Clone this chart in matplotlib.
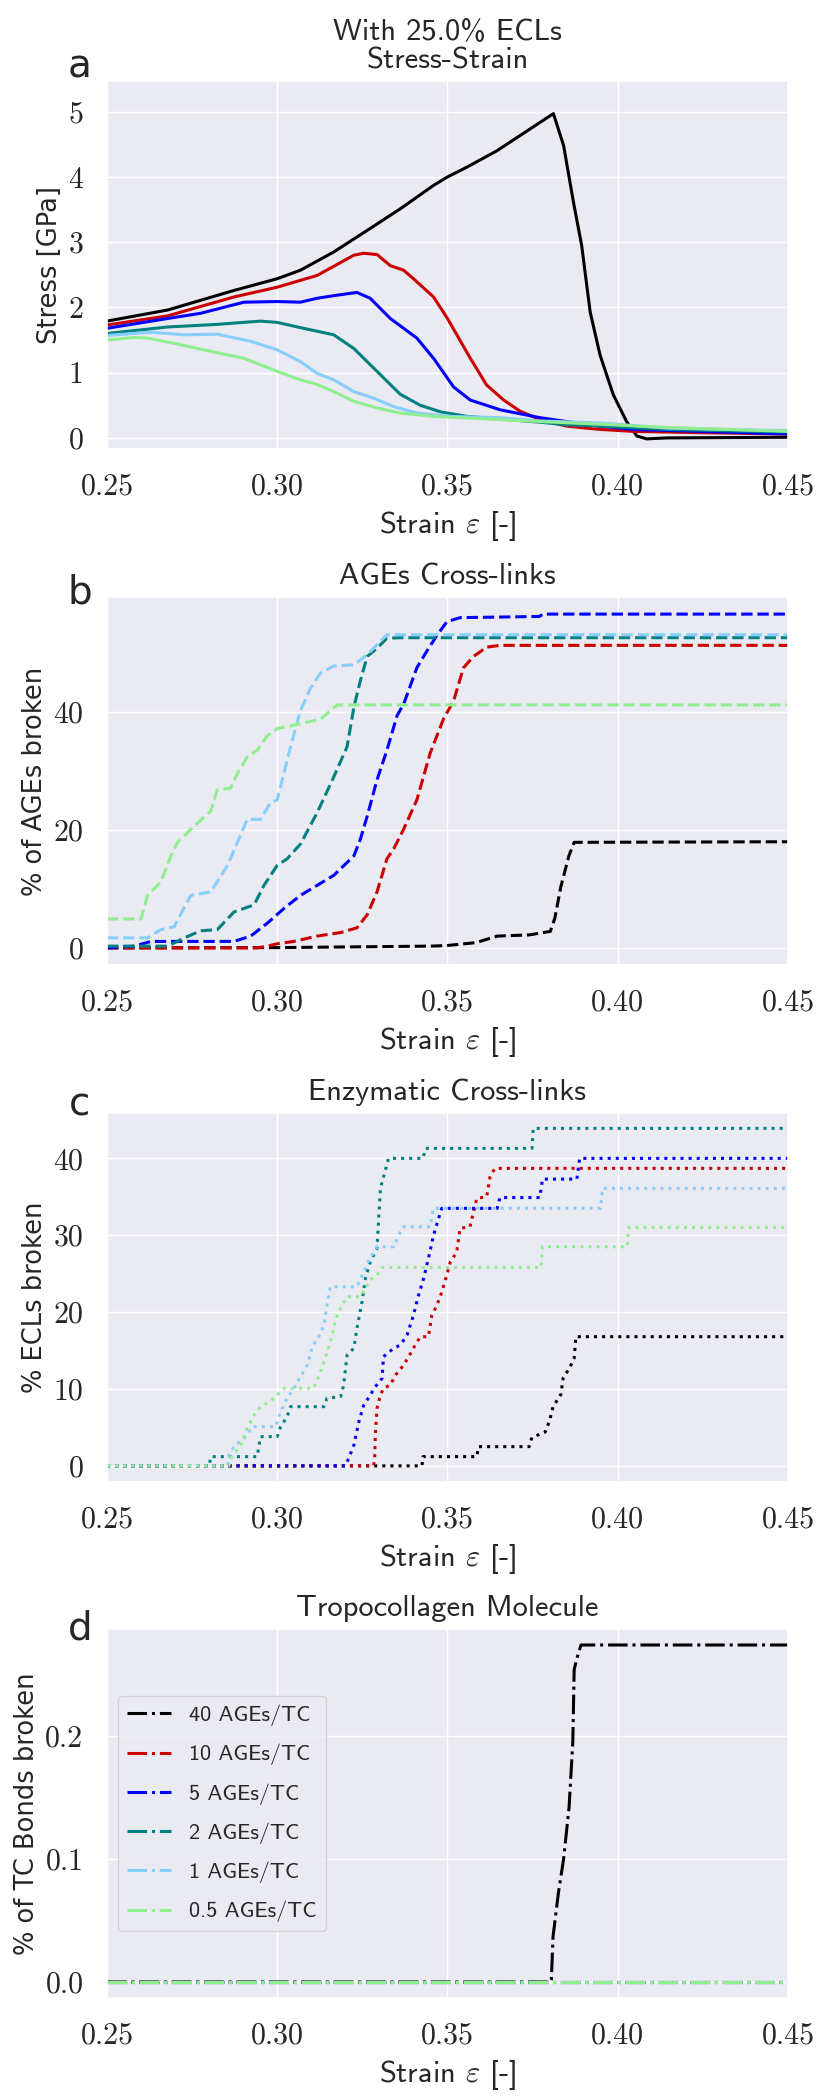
import matplotlib
matplotlib.use('Agg')
import matplotlib.pyplot as plt
import seaborn as sns

sns.set_theme(style='darkgrid')
plt.rcParams['mathtext.fontset'] = 'cm'
plt.rcParams['font.family'] = ['DejaVu Sans']

# ---------------- data ----------------
x_ticks = [0.25, 0.30, 0.35, 0.40, 0.45]
labels = ['40 AGEs/TC', '10 AGEs/TC', '5 AGEs/TC', '2 AGEs/TC', '1 AGEs/TC', '0.5 AGEs/TC']
colors = ['black', '#cc0000', 'blue', 'teal', 'lightskyblue', 'lightgreen']

# a) stress-strain
a_strain_40 = [0.25, 0.2678, 0.2873, 0.30, 0.3068, 0.3166, 0.3264, 0.3361, 0.3459, 0.35, 0.3557, 0.3645,
               0.3811, 0.3841, 0.387, 0.3894, 0.3919, 0.3948, 0.3987, 0.4026, 0.4056, 0.4085, 0.4144, 0.45]
a_stress_40 = [1.79, 1.96, 2.26, 2.44, 2.57, 2.85, 3.18, 3.51, 3.87, 4.0, 4.15, 4.40,
               4.97, 4.48, 3.61, 2.95, 1.93, 1.27, 0.66, 0.25, 0.03, -0.015, 0.0, 0.01]
a_strain_10 = [0.25, 0.2678, 0.2873, 0.30, 0.3117, 0.3225, 0.3254, 0.3293, 0.3332, 0.3371, 0.34, 0.3459,
               0.35, 0.3567, 0.3615, 0.3665, 0.3713, 0.3772, 0.385, 0.3948, 0.4046, 0.4242, 0.45]
a_stress_10 = [1.73, 1.87, 2.16, 2.31, 2.49, 2.80, 2.83, 2.81, 2.64, 2.57, 2.44, 2.16,
               1.83, 1.22, 0.81, 0.58, 0.41, 0.28, 0.18, 0.13, 0.10, 0.08, 0.06]
a_strain_5 = [0.25, 0.2678, 0.2775, 0.2902, 0.30, 0.3068, 0.3117, 0.3166, 0.3234, 0.3273, 0.3332, 0.341,
              0.3459, 0.3518, 0.3567, 0.3655, 0.3772, 0.385, 0.3948, 0.4046, 0.45]
a_stress_5 = [1.68, 1.83, 1.91, 2.08, 2.09, 2.08, 2.14, 2.18, 2.23, 2.14, 1.83, 1.53,
              1.22, 0.78, 0.58, 0.43, 0.31, 0.25, 0.18, 0.13, 0.06]
a_strain_2 = [0.25, 0.2678, 0.2824, 0.2951, 0.30, 0.3068, 0.3166, 0.3225, 0.3293, 0.3361, 0.342, 0.3479,
              0.3557, 0.3654, 0.3772, 0.385, 0.3948, 0.4144, 0.45]
a_stress_2 = [1.60, 1.70, 1.74, 1.79, 1.77, 1.69, 1.58, 1.37, 1.02, 0.67, 0.50, 0.40,
              0.33, 0.29, 0.24, 0.20, 0.18, 0.13, 0.09]
a_strain_1 = [0.25, 0.2629, 0.2727, 0.2824, 0.2922, 0.30, 0.3068, 0.3117, 0.3166, 0.3225, 0.3283, 0.3342,
              0.341, 0.3508, 0.3654, 0.3772, 0.3948, 0.4144, 0.45]
a_stress_1 = [1.57, 1.62, 1.58, 1.59, 1.48, 1.35, 1.17, 0.99, 0.89, 0.71, 0.61, 0.48,
              0.38, 0.33, 0.31, 0.26, 0.23, 0.15, 0.11]
a_strain_05 = [0.25, 0.258, 0.2619, 0.2697, 0.2775, 0.2902, 0.30, 0.3068, 0.3117, 0.3166, 0.3225, 0.3293,
               0.3361, 0.3459, 0.3654, 0.3772, 0.3948, 0.4144, 0.45]
a_stress_05 = [1.50, 1.54, 1.53, 1.45, 1.36, 1.22, 1.02, 0.89, 0.82, 0.71, 0.56, 0.46,
               0.38, 0.33, 0.28, 0.25, 0.21, 0.16, 0.10]

# b) % of AGEs broken
b_strain_40 = [0.25, 0.30, 0.345, 0.3498, 0.355, 0.3584, 0.3646, 0.374, 0.3802, 0.3815, 0.3833, 0.3857, 0.3872, 0.45]
b_ages_40 = [0.0, 0.05, 0.3, 0.4, 0.7, 0.9, 2.0, 2.2, 2.8, 5.0, 10.4, 15.7, 17.9, 18.0]
b_strain_10 = [0.25, 0.2775, 0.2941, 0.2971, 0.30, 0.3049, 0.3117, 0.3186, 0.3234, 0.3264, 0.3293, 0.3322,
               0.3342, 0.3371, 0.341, 0.3449, 0.3488, 0.3518, 0.3547, 0.3576, 0.3615, 0.3654, 0.45]
b_ages_10 = [0.0, 0.0, 0.0, 0.3, 0.7, 1.1, 2.0, 2.6, 3.4, 5.6, 9.5, 15.1,
             16.8, 20.1, 25.1, 33.0, 38.8, 41.9, 47.5, 49.4, 51.0, 51.3, 51.3]
b_strain_5 = [0.25, 0.258, 0.2629, 0.2873, 0.2922, 0.2971, 0.302, 0.3068, 0.3117, 0.3166, 0.3225, 0.3244,
              0.3264, 0.3293, 0.3322, 0.3352, 0.3371, 0.341, 0.3439, 0.3469, 0.3498, 0.3537, 0.3654, 0.377,
              0.378, 0.45]
b_ages_5 = [0.0, 0.3, 1.1, 1.1, 2.0, 4.2, 6.7, 8.9, 10.6, 12.3, 15.6, 18.4,
            22.3, 28.5, 33.5, 39.4, 41.3, 47.5, 50.3, 53.0, 55.3, 56.0, 56.1, 56.2,
            56.6, 56.6]
b_strain_2 = [0.25, 0.2678, 0.2727, 0.2775, 0.2824, 0.2873, 0.2932, 0.2961, 0.30, 0.3029, 0.3068, 0.3117,
              0.3166, 0.3205, 0.3225, 0.3244, 0.3264, 0.3293, 0.3322, 0.3361, 0.45]
b_ages_2 = [0.3, 0.3, 1.7, 2.9, 3.1, 6.1, 7.3, 10.6, 14.0, 15.1, 17.6, 22.9,
            29.0, 34.1, 40.8, 45.3, 49.4, 50.8, 52.5, 52.6, 52.6]
b_strain_1 = [0.25, 0.2619, 0.2658, 0.2697, 0.2746, 0.2805, 0.2854, 0.2912, 0.2951, 0.298, 0.30, 0.3039,
              0.3068, 0.3098, 0.3127, 0.3166, 0.3225, 0.3264, 0.3293, 0.3322, 0.45]
b_ages_1 = [1.7, 1.7, 3.1, 3.6, 8.9, 9.5, 14.0, 21.8, 21.8, 24.6, 25.1, 34.1,
            40.2, 44.1, 46.6, 47.8, 48.0, 49.7, 51.4, 53.1, 53.1]
b_strain_05 = [0.25, 0.26, 0.2619, 0.2658, 0.2688, 0.2707, 0.2746, 0.2805, 0.2824, 0.2863, 0.2883, 0.2912,
               0.2941, 0.2971, 0.30, 0.3068, 0.3127, 0.3156, 0.3176, 0.45]
b_ages_05 = [4.9, 4.9, 8.9, 11.2, 15.6, 17.9, 20.1, 23.2, 26.8, 27.1, 29.6, 32.4,
             33.5, 36.0, 37.2, 38.0, 38.8, 40.2, 41.2, 41.2]

# c) % ECLs broken
c_strain_40 = [0.25, 0.3425, 0.3428, 0.3586, 0.3591, 0.374, 0.3748, 0.3787, 0.38, 0.381, 0.3833, 0.384,
               0.3857, 0.3872, 0.3877, 0.45]
c_ecl_40 = [0.0, 0.0, 1.2, 1.2, 2.5, 2.5, 3.7, 4.4, 5.9, 7.7, 9.3, 11.5,
            12.6, 14.0, 16.8, 16.8]
c_strain_10 = [0.25, 0.3283, 0.3286, 0.3288, 0.3293, 0.3303, 0.3312, 0.3332, 0.3347, 0.3371, 0.3386, 0.3405,
               0.342, 0.3444, 0.3454, 0.3469, 0.3483, 0.3498, 0.3508, 0.3527, 0.3537, 0.3566, 0.3586, 0.3615,
               0.3625, 0.3639, 0.45]
c_ecl_10 = [0.0, 0.0, 1.0, 4.0, 7.5, 9.2, 10.1, 10.5, 11.8, 13.1, 14.2, 15.7,
            16.8, 16.8, 19.6, 20.9, 22.6, 24.8, 26.5, 27.8, 30.9, 31.1, 34.8, 35.0,
            37.6, 38.7, 38.7]
c_strain_5 = [0.25, 0.32, 0.321, 0.3225, 0.324, 0.3254, 0.3273, 0.3288, 0.3308, 0.3312, 0.3342, 0.3361,
              0.3381, 0.34, 0.3415, 0.343, 0.3444, 0.3459, 0.3474, 0.3483, 0.3646, 0.3654, 0.3771, 0.3779,
              0.388, 0.3888, 0.45]
c_ecl_5 = [0.0, 0.0, 1.0, 2.7, 5.8, 7.9, 9.2, 10.3, 11.4, 14.2, 15.3, 15.7,
           17.0, 19.6, 22.2, 24.4, 27.0, 30.0, 32.2, 33.5, 33.5, 34.9, 34.9, 37.3,
           37.3, 40.0, 40.0]
c_strain_2 = [0.25, 0.2800, 0.2805, 0.2941, 0.2946, 0.2951, 0.30, 0.301, 0.3029, 0.3039, 0.3137, 0.3146,
              0.3186, 0.3195, 0.3205, 0.3225, 0.3234, 0.3249, 0.3259, 0.3273, 0.3293, 0.3298, 0.3303, 0.3327,
              0.3428, 0.3436, 0.3748, 0.3752, 0.45]
c_ecl_2 = [0.0, 0.0, 1.2, 1.2, 2.5, 3.8, 3.8, 5.1, 6.4, 7.7, 7.7, 8.8,
           9.0, 10.5, 14.4, 15.3, 17.9, 21.3, 24.4, 26.5, 28.3, 32.2, 36.1, 40.0,
           40.0, 41.3, 41.3, 43.9, 43.9]
c_strain_1 = [0.25, 0.2854, 0.2858, 0.2873, 0.2912, 0.2927, 0.2995, 0.3005, 0.3015, 0.3029, 0.3049, 0.3068,
              0.3088, 0.3103, 0.3122, 0.3137, 0.3146, 0.3156, 0.3234, 0.3254, 0.3264, 0.3278, 0.3293, 0.3342,
              0.3361, 0.3371, 0.3449, 0.3459, 0.395, 0.3955, 0.45]
c_ecl_1 = [0.0, 0.0, 1.4, 2.5, 4.0, 5.1, 5.1, 6.4, 7.5, 8.8, 10.1, 11.6,
           13.1, 15.5, 16.8, 18.3, 20.9, 23.3, 23.3, 25.2, 26.3, 27.4, 28.5, 28.5,
           30.4, 31.1, 31.1, 33.5, 33.5, 36.1, 36.1]
c_strain_05 = [0.25, 0.2858, 0.2863, 0.2893, 0.2912, 0.2932, 0.2951, 0.298, 0.299, 0.302, 0.3107, 0.3122,
               0.3137, 0.3156, 0.3171, 0.3186, 0.3205, 0.3244, 0.3259, 0.3273, 0.3293, 0.3308, 0.3775, 0.3779,
               0.4028, 0.4032, 0.45]
c_ecl_05 = [0.0, 0.0, 1.0, 2.7, 4.9, 6.6, 7.7, 8.4, 8.8, 10.1, 10.1, 11.6,
            13.5, 16.1, 19.0, 20.5, 22.0, 22.0, 23.1, 24.2, 24.8, 25.8, 25.8, 28.5,
            28.5, 31.0, 31.0]

# d) % of TC bonds broken
d_strain_40 = [0.25, 0.3802, 0.3805, 0.381, 0.3826, 0.3841, 0.3857, 0.3868, 0.3872, 0.388, 0.3892, 0.45]
d_tc_40 = [0.0, 0.0, 0.002, 0.037, 0.073, 0.10, 0.142, 0.195, 0.254, 0.263, 0.274, 0.274]
d_strain_flat = [0.25, 0.45]
d_tc_flat = [0.0, 0.0]

panel_a = [(a_strain_40, a_stress_40), (a_strain_10, a_stress_10), (a_strain_5, a_stress_5),
           (a_strain_2, a_stress_2), (a_strain_1, a_stress_1), (a_strain_05, a_stress_05)]
panel_b = [(b_strain_40, b_ages_40), (b_strain_10, b_ages_10), (b_strain_5, b_ages_5),
           (b_strain_2, b_ages_2), (b_strain_1, b_ages_1), (b_strain_05, b_ages_05)]
panel_c = [(c_strain_40, c_ecl_40), (c_strain_10, c_ecl_10), (c_strain_5, c_ecl_5),
           (c_strain_2, c_ecl_2), (c_strain_1, c_ecl_1), (c_strain_05, c_ecl_05)]
panel_d = [(d_strain_40, d_tc_40)] + [(d_strain_flat, d_tc_flat)] * 5

# ---------------- figure ----------------
W, H = 828, 2100
fig = plt.figure(figsize=(W / 100, H / 100), dpi=100)

def px_axes(top, bottom, left=107, right=788):
    return fig.add_axes([left / W, 1 - bottom / H, (right - left) / W, (bottom - top) / H])

sf = 'cmss10'
panels = [
    dict(top=81, bottom=449, data=panel_a, ls='-', ylim=(-0.17, 5.47), yt=[0, 1, 2, 3, 4, 5],
         ylabel='Stress [GPa]', title='With 25.0% ECLs\nStress-Strain', letter='a', lb=78),
    dict(top=597, bottom=965, data=panel_b, ls='--', ylim=(-2.9, 59.5), yt=[0, 20, 40],
         ylabel='% of AGEs broken', title='AGEs Cross-links', letter='b', lb=603),
    dict(top=1113, bottom=1482, data=panel_c, ls=':', ylim=(-2.1, 45.9), yt=[0, 10, 20, 30, 40],
         ylabel='% ECLs broken', title='Enzymatic Cross-links', letter='c', lb=1115),
    dict(top=1629, bottom=1998, data=panel_d, ls='-.', ylim=(-0.013, 0.287), yt=[0.0, 0.1, 0.2],
         ylabel='% of TC Bonds broken', title='Tropocollagen Molecule', letter='d', lb=1640),
]

for p in panels:
    ax = px_axes(p['top'], p['bottom'])
    for (xs, ys), c, lab in zip(p['data'], colors, labels):
        ax.plot(xs, ys, color=c, ls=p['ls'], lw=2.2, label=lab)
    ax.set_xlim(0.25, 0.45)
    ax.set_ylim(*p['ylim'])
    ax.set_xticks(x_ticks)
    ax.set_yticks(p['yt'])
    ax.tick_params(labelsize=21.5, pad=11, labelfontfamily='cmr10')
    ax.set_xlabel(r'Strain $\varepsilon$ [-]', fontsize=22, family=sf, labelpad=6)
    ax.set_ylabel(p['ylabel'], fontsize=18.5)
    ax.set_title(p['title'], fontsize=22, family=sf, pad=9, linespacing=1.05)
    fig.text(80 / W, 1 - p['lb'] / H, p['letter'], fontsize=28, ha='center', va='baseline')
    if p['letter'] == 'd':
        ax.legend(loc='center left', prop={'family': sf, 'size': 16}, handlelength=2.0,
                  labelspacing=0.8)

fig.savefig('out.png', dpi=100)
